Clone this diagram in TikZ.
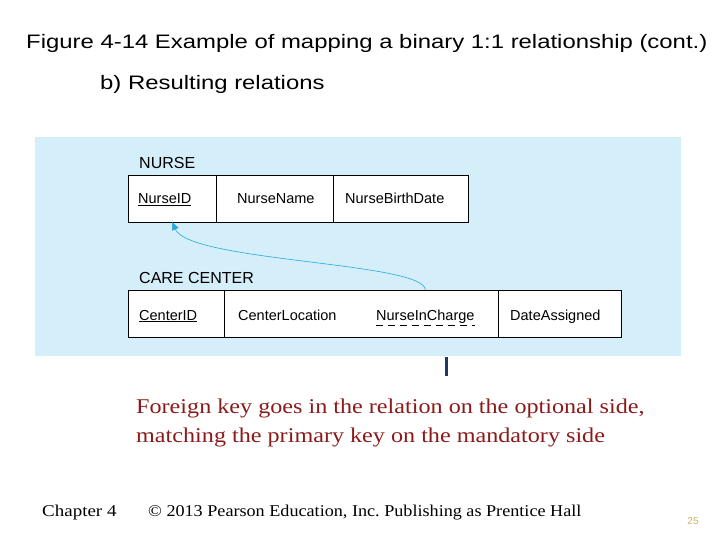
\documentclass[tikz,border=0pt]{standalone}
\usepackage{fontspec}
\setmainfont{Liberation Serif}
\newfontfamily\headfont[FakeStretch=1.225]{Liberation Sans}
\newfontfamily\relfont{Liberation Sans}
\newfontfamily\notefont[FakeStretch=1.15]{Liberation Serif}
\newfontfamily\footfont[FakeStretch=1.10]{Liberation Serif}
\usetikzlibrary{arrows.meta,positioning}
\definecolor{panelblue}{HTML}{D4EEFA}
\definecolor{fkblue}{HTML}{2AA6DE}
\definecolor{notered}{HTML}{8B1A1A}
\definecolor{marknavy}{HTML}{1F3864}
\definecolor{pagetan}{HTML}{C8B26A}
\newcommand{\rel}[1]{{\relfont\fontsize{14.5}{16}\selectfont #1}}

\begin{document}
\begin{tikzpicture}[x=1pt,y=-1pt,
    tbl/.style={draw,fill=white,line width=0.7pt,minimum height=47,inner sep=0,outer sep=0,anchor=north west},
    attr/.style={anchor=base west,inner sep=0},
    title/.style={anchor=base west,inner sep=0,font=\headfont\fontsize{19.5}{22}\selectfont}]
  \useasboundingbox (0,0) rectangle (720,540);
  \node[title] (fig) at (26,49) {Figure 4-14 Example of mapping a binary 1:1 relationship (cont.)};
  \node[title] (sub) at (100,90) {b) Resulting relations};
  % panel
  \fill[panelblue] (35,137) rectangle (681,356);
  \node[attr] (nurse) at (139,169) {{\relfont\fontsize{16}{18}\selectfont NURSE}};
  \node[attr] (care) at (139,283) {{\relfont\fontsize{16}{18}\selectfont CARE CENTER}};
  % NURSE relation
  \node[tbl,minimum width=88] (nurseid) at (128,175) {};
  \node[tbl,minimum width=117,right=0pt of nurseid] (nursename) {};
  \node[tbl,minimum width=135,right=0pt of nursename] (nursebd) {};
  \node[attr] (nid) at (138,204) {\rel{\underline{NurseID}}};
  \node[attr] (nname) at (237,204) {\rel{NurseName}};
  \node[attr] (nbd) at (345,204) {\rel{NurseBirthDate}};
  % CARE CENTER relation
  \node[tbl,minimum width=96] (centerid) at (128,290) {};
  \node[tbl,minimum width=274,right=0pt of centerid] (centerloc) {};
  \node[tbl,minimum width=123,right=0pt of centerloc] (dateas) {};
  \node[attr] (cid) at (139,320) {\rel{\underline{CenterID}}};
  \node[attr] (cloc) at (238,320) {\rel{CenterLocation}};
  \node[attr] (nic) at (376,320) {\rel{NurseInCharge}};
  \node[attr] (dasg) at (510,320) {\rel{DateAssigned}};
  \draw[dashed,dash pattern=on 7pt off 5pt,line width=0.6pt] ([yshift=-5pt]nic.base west) -- ([yshift=-5pt]nic.base east);
  % foreign key arrow
  \draw[fkblue,line width=0.6pt,-{Triangle[length=8pt,width=7pt]}]
    (nic.north |- centerloc.north) .. controls (425,262) and (190,262) .. (nurseid.south);
  \draw[marknavy,line width=3pt] (446,357) -- (446,376);
  % note
  \node[anchor=base west,inner sep=0,align=left,text=notered,font=\notefont\fontsize{21}{29}\selectfont] (note) at (136,442)
    {Foreign key goes in the relation on the optional side,\\matching the primary key on the mandatory side};
  % footer
  \node[anchor=base west,inner sep=0,font=\notefont\fontsize{16.5}{20}\selectfont] (chap) at (42,516) {Chapter 4};
  \node[anchor=base west,inner sep=0,font=\footfont\fontsize{16.5}{20}\selectfont] (copy) at (148,516) {© 2013 Pearson Education, Inc.\ Publishing as Prentice Hall};
  \node[inner sep=0,text=pagetan,font=\relfont\fontsize{10}{12}\selectfont] (pg) at (693,521) {25};
\end{tikzpicture}
\end{document}
